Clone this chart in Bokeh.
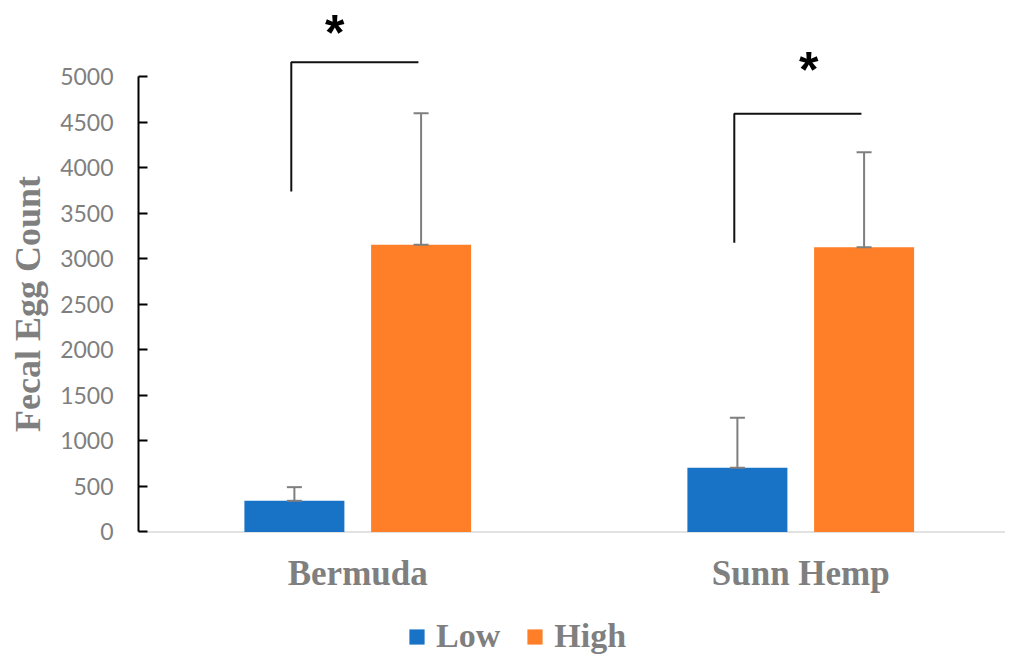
import math
from bokeh.plotting import figure
from bokeh.layouts import column
from bokeh.models import (Range1d, FixedTicker, Whisker, TeeHead, ColumnDataSource,
                          Legend, LegendItem, Span)
from bokeh.core.properties import value
from bokeh.embed import file_html
from bokeh.resources import INLINE

# ---- data ----
categories = ["Bermuda", "Sunn Hemp"]
series_names = ["Low", "High"]
low_mean = [342, 705]
low_err = [150, 549]
high_mean = [3153, 3126]
high_err = [1444, 1043]
y_ticks = [0, 500, 1000, 1500, 2000, 2500, 3000, 3500, 4000, 4500, 5000]
# significance brackets (value scale)
bracket_bottom = [3738, 3175]
bracket_top = [5157, 4591]
sig_text = ["*", "*"]
sig_y = [5472, 5073]

BLUE = "#1872C6"
ORANGE = "#FE7F27"
GRAY = "#7f7f7f"

idx = list(range(len(categories)))
off = 0.143
bw = 0.2257

p = figure(width=1005, height=607, output_backend="svg", toolbar_location=None,
           x_range=Range1d(-0.4949, 1.4622), y_range=Range1d(-829, 5834),
           min_border_left=138, min_border_right=0, min_border_top=0, min_border_bottom=0)
p.outline_line_color = None
p.xgrid.visible = False
p.ygrid.visible = False
p.xaxis.visible = False

# baseline
p.add_layout(Span(location=0, dimension="width", line_color="#e2e2e2", line_width=2, level="underlay"))

low_src = ColumnDataSource(dict(x=[i - off for i in idx], top=low_mean,
                                lo=low_mean, hi=[m + e for m, e in zip(low_mean, low_err)]))
high_src = ColumnDataSource(dict(x=[i + off for i in idx], top=high_mean,
                                 lo=high_mean, hi=[m + e for m, e in zip(high_mean, high_err)]))

p.vbar(x="x", top="top", bottom=0, width=bw, source=low_src, fill_color=BLUE, line_color=None)
p.vbar(x="x", top="top", bottom=0, width=bw, source=high_src, fill_color=ORANGE, line_color=None)

for src in (low_src, high_src):
    w = Whisker(source=src, base="x", lower="lo", upper="hi", dimension="height",
                line_color=GRAY, line_width=2, level="overlay",
                upper_head=TeeHead(size=15, line_color=GRAY, line_width=2),
                lower_head=TeeHead(size=15, line_color=GRAY, line_width=2))
    p.add_layout(w)

# brackets
bx0 = [i - 0.150 for i in idx]
bx1 = [i + 0.137 for i in idx]
xs = [[a, a, b] for a, b in zip(bx0, bx1)]
ys = [[lo, hi, hi] for lo, hi in zip(bracket_bottom, bracket_top)]
p.multi_line(xs=xs, ys=ys, line_color="#111111", line_width=2)

sig_x = [idx[0] - 0.052, idx[1] + 0.018]
p.text(x=sig_x, y=sig_y, text=sig_text, text_font=value("Liberation Sans"),
       text_font_style="bold", text_font_size="50px", text_color="black",
       text_align="center", text_baseline="alphabetic")

# category labels (drawn in the frame, below the baseline)
p.text(x=idx, y=[-452] * len(idx), text=categories, text_font=value("Liberation Serif"),
       text_font_style="bold", text_font_size="35px", text_color=GRAY,
       text_align="center", text_baseline="alphabetic")

# y axis
ya = p.yaxis[0]
ya.ticker = FixedTicker(ticks=y_ticks)
ya.bounds = (0, 5000)
ya.axis_line_color = "black"
ya.axis_line_width = 2
ya.major_tick_in = 9
ya.major_tick_out = 0
ya.major_tick_line_width = 2
ya.major_tick_line_color = "black"
ya.minor_tick_line_color = None
ya.major_label_text_font = "Lato"
ya.major_label_text_font_size = "23px"
ya.major_label_text_color = GRAY
ya.major_label_standoff = 25
ya.axis_label = "Fecal Egg Count"
ya.axis_label_text_font = "Liberation Serif"
ya.axis_label_text_font_style = "bold"
ya.axis_label_text_font_size = "36px"
ya.axis_label_text_color = GRAY
ya.axis_label_standoff = 9

# legend strip (its frame is aligned with the main frame by the column layout)
p2 = figure(width=1005, height=48, output_backend="svg", toolbar_location=None,
            x_range=Range1d(0, 1), y_range=Range1d(0, 1),
            min_border_left=0, min_border_right=0, min_border_top=0, min_border_bottom=0)
p2.outline_line_color = None
p2.xaxis.visible = False
p2.yaxis.visible = False
p2.xgrid.visible = False
p2.ygrid.visible = False
lr_low = p2.vbar(x=[-10], top=[0], width=0.1, fill_color=BLUE, line_color=None)
lr_high = p2.vbar(x=[-10], top=[0], width=0.1, fill_color=ORANGE, line_color=None)
legend = Legend(items=[LegendItem(label=series_names[0], renderers=[lr_low]),
                       LegendItem(label=series_names[1], renderers=[lr_high])],
                orientation="horizontal", location=(269, 0),
                glyph_width=19, glyph_height=19, label_standoff=10, spacing=25,
                label_text_font="Liberation Serif", label_text_font_style="bold",
                label_text_font_size="34px", label_text_color=GRAY,
                border_line_color=None, background_fill_alpha=0, padding=0, margin=0)
p2.add_layout(legend)

layout = column(p, p2, spacing=0)
open("out.html", "w").write(file_html(layout, INLINE))
